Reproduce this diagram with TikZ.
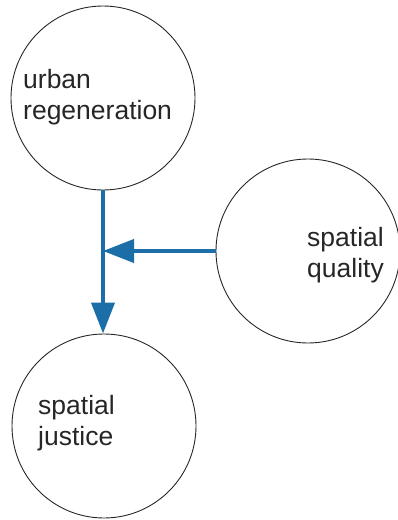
\documentclass[tikz,border=0pt]{standalone}
\usepackage{fontspec}
\setmainfont{Liberation Sans}
\usetikzlibrary{arrows.meta}
\definecolor{arrowblue}{RGB}{28,110,168}
\begin{document}
\begin{tikzpicture}[x=1pt,y=-1pt,
  concept/.style={circle,draw=black!85,line width=0.9pt,minimum size=184pt,inner sep=0pt},
  conceptlabel/.style={anchor=base west,align=left,inner sep=0pt,font=\fontsize{26.5}{31}\selectfont,text=black!85},
  influence/.style={draw=arrowblue,line width=4pt,-{Triangle[length=31pt,width=23pt]}}]
\useasboundingbox (0,0) rectangle (397,520);
\node[concept] (top) at (103,98) {};
\node[concept] (right) at (308,251) {};
\node[concept] (bottom) at (104,426) {};
\node[conceptlabel] (toptext) at (23,119) {urban\\regeneration};
\node[conceptlabel] (righttext) at (307,277) {spatial\\quality};
\node[conceptlabel] (bottomtext) at (38,445) {spatial\\justice};
\coordinate (join) at (103,251);
\draw[influence] (top.south) -- (top.south |- bottom.north);
\draw[influence] (right.west) -- (join);
\end{tikzpicture}
\end{document}
